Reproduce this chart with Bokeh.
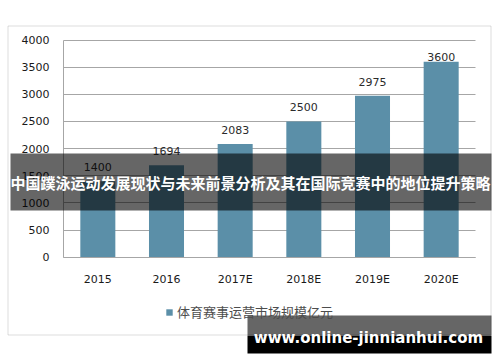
import numpy as np
from bokeh.plotting import figure
from bokeh.models import (Range1d, FixedTicker, BoxAnnotation, Label,
                          Legend, LegendItem, ColumnDataSource, Grid)
from bokeh.core.properties import value
from bokeh.embed import file_html
from bokeh.resources import INLINE

# ---- data ----
categories = ["2015", "2016", "2017E", "2018E", "2019E", "2020E"]
market_size = [1400, 1694, 2083, 2500, 2975, 3600]
y_ticks = [0, 500, 1000, 1500, 2000, 2500, 3000, 3500, 4000]
series_name = "体育赛事运营市场规模亿元"
title_text = "中国蹼泳运动发展现状与未来前景分析及其在国际竞赛中的地位提升策略"
watermark_text = "www.online-jinnianhui.com"

# ---- layout (pixel geometry of the plot area inside the canvas) ----
W, H = 500, 362
PX0, PX1 = 63.0, 475.0      # canvas x of the category axis start / end
PY0, PY1 = 256.7, 39.5      # canvas y of value 0 / value Y_MAX
Y_MAX = 4000
N = len(categories)

def xd(px):
    return (px - PX0) / (PX1 - PX0) * N

def yd(py):
    return (PY0 - py) / (PY0 - PY1) * Y_MAX

p = figure(width=W, height=H, x_range=Range1d(xd(0), xd(W)), y_range=Range1d(yd(H), yd(0)),
           output_backend="svg", toolbar_location=None, title=None,
           min_border=0, min_border_left=0, min_border_right=0, min_border_top=0,
           min_border_bottom=0, background_fill_color="white", border_fill_color="white",
           outline_line_color=None)

xpos = np.arange(N) + 0.5
src = ColumnDataSource(dict(x=xpos, val=market_size,
                            ly=np.minimum(market_size, 3420),
                            txt=[str(v) for v in market_size]))

# grid lines
p.xgrid.visible = False
if "cross_bounds" in Grid.properties():
    p.ygrid.ticker = FixedTicker(ticks=y_ticks)
    p.ygrid.grid_line_color = "#a6a6a6"
    p.ygrid.cross_bounds = (0, N)
    p.ygrid.bounds = (0, Y_MAX)
else:
    p.ygrid.visible = False
    p.segment(x0=[0] * len(y_ticks), x1=[N] * len(y_ticks), y0=y_ticks, y1=y_ticks,
              line_color="#a6a6a6", line_width=1, level="underlay")

bars = p.vbar(x="x", top="val", width=0.51, source=src,
              fill_color="#5b8fa8", line_color=None)
p.text(x="x", y="ly", text="txt", source=src, text_align="center",
       text_baseline="middle", y_offset=-14, text_font=value("DejaVu Sans"),
       text_font_size="11px", text_color="#2b2b2b")

# axes, pinned to the plot area's edges
for ax in (p.xaxis, p.yaxis):
    ax.major_tick_out = 0
    ax.major_tick_in = 0
    ax.minor_tick_out = 0
    ax.minor_tick_in = 0
    ax.axis_line_color = "#a6a6a6"
    ax.major_label_text_font = "DejaVu Sans"
    ax.major_label_text_font_size = "11px"
    ax.major_label_text_color = "#1a1a1a"
p.yaxis.fixed_location = 0
p.yaxis.bounds = (0, Y_MAX)
p.yaxis.ticker = FixedTicker(ticks=y_ticks)
p.yaxis.major_label_standoff = 14
p.xaxis.fixed_location = 0
p.xaxis.bounds = (0, N)
p.xaxis.ticker = FixedTicker(ticks=list(xpos))
p.xaxis.major_label_overrides = {float(x): c for x, c in zip(xpos, categories)}
p.xaxis.major_label_standoff = 16

# legend
legend = Legend(items=[LegendItem(label=series_name, renderers=[bars])],
                location=(165, 41), orientation="horizontal",
                glyph_width=8, glyph_height=8, label_standoff=4,
                label_text_font="Noto Sans CJK SC", label_text_font_size="13px",
                label_text_color="#4d4d4d", padding=0, margin=0,
                border_line_color=None, background_fill_alpha=0,
                label_height=14, spacing=0)
p.add_layout(legend)

# outer chart border
p.add_layout(BoxAnnotation(left=xd(7.5), right=xd(490.5), top=yd(25.5), bottom=yd(334.5),
                           fill_alpha=0, line_color="#8c8c8c", line_width=1))

# title banner
p.add_layout(BoxAnnotation(left=xd(10), right=xd(491), top=yd(153), bottom=yd(210),
                           fill_color="black", fill_alpha=0.6, line_color=None))
p.add_layout(Label(x=xd(250), y=yd(181.5), text=title_text, text_align="center",
                   text_baseline="middle", text_color="white",
                   text_font="Noto Sans CJK SC", text_font_style="bold",
                   text_font_size="15px"))

# watermark
p.add_layout(BoxAnnotation(left=xd(247), right=xd(491), top=yd(315), bottom=yd(335.5),
                           fill_color="black", fill_alpha=0.6, line_color=None))
p.add_layout(BoxAnnotation(left=xd(247), right=xd(491), top=yd(335.5), bottom=yd(353),
                           fill_color="black", fill_alpha=1.0, line_color=None))
p.add_layout(Label(x=xd(368), y=yd(337), text=watermark_text, text_align="center",
                   text_baseline="middle", text_color="white",
                   text_font="DejaVu Sans", text_font_style="bold",
                   text_font_size="15px"))

open("out.html", "w").write(file_html(p, INLINE))
